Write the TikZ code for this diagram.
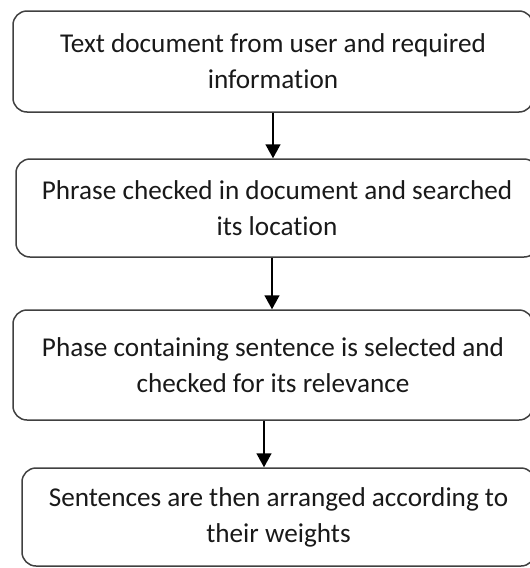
\documentclass[tikz,border=0pt]{standalone}
\usepackage{fontspec}
\setmainfont[Ligatures=CommonOff]{Carlito}
\usepackage{tikz}
\usetikzlibrary{arrows.meta}

\begin{document}
\begin{tikzpicture}[x=1pt,y=-1pt,
    stepbox/.style={shape=rectangle,draw=black!75,line width=1.5pt,rounded corners=14pt,
        align=center,text=black!90,font=\fontsize{27.2}{36}\selectfont,inner sep=0pt},
    flowarrow/.style={line width=1.5pt,-{Triangle[width=15pt,length=14pt]}}]
    \useasboundingbox (0,0) rectangle (530,568);
    \clip (0,0) rectangle (530,568);
    \node (b1) at (273,61.5) [stepbox,minimum width=520pt,minimum height=101pt] {Text document from user and required\\information};
    \node (b2) at (277,208) [stepbox,minimum width=522pt,minimum height=98pt] {Phrase checked in document and searched\\its location};
    \node (b3) at (273,365) [stepbox,minimum width=520pt,minimum height=110pt] {Phase containing sentence is selected and\\checked for its relevance};
    \node (b4) at (278.5,517) [stepbox,minimum width=513pt,minimum height=98pt] {Sentences are then arranged according to\\their weights};
    % arrows between the steps
    \draw[flowarrow] (b1.south) -- (b1.south |- b2.north);
    \draw[flowarrow] ([xshift=-5pt]b2.south) -- ([xshift=-5pt]b2.south |- b3.north);
    \draw[flowarrow] ([xshift=-9pt]b3.south) -- ([xshift=-9pt]b3.south |- b4.north);
\end{tikzpicture}
\end{document}
